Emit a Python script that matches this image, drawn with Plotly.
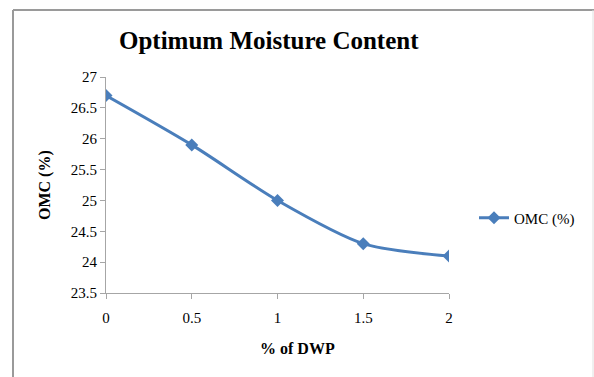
import plotly.graph_objects as go

dwp = [0, 0.5, 1, 1.5, 2]
omc = [26.7, 25.9, 25.0, 24.3, 24.1]
y_ticks = [23.5, 24, 24.5, 25, 25.5, 26, 26.5, 27]
x_ticks = [0, 0.5, 1, 1.5, 2]
x_labels = ["0", "0.5", "1", "1.5", "2"]

W, H = 594, 377
L, R, T, B = 106, 145, 77, 84
pw, ph = W - L - R, H - T - B

def px(x):
    return (x - L) / pw

def py(y):
    return (H - B - y) / ph

blue = "#4A7EBB"
grey = "#A6A6A6"
font = "Times New Roman, Liberation Serif, serif"

fig = go.Figure()
fig.add_trace(go.Scatter(
    x=dwp, y=omc, mode="lines+markers", name="OMC (%)",
    line=dict(color=blue, width=3, shape="spline", smoothing=0.8),
    marker=dict(symbol="diamond", size=10, color=blue),
))

fig.update_layout(
    width=W, height=H,
    margin=dict(l=L, r=R, t=T, b=B),
    paper_bgcolor="white", plot_bgcolor="white",
    font=dict(family=font, size=15, color="black"),
    showlegend=True,
    legend=dict(x=px(474), y=py(218), xanchor="left", yanchor="middle",
                font=dict(family=font, size=15, color="black"),
                bgcolor="rgba(0,0,0,0)", itemwidth=30),
    xaxis=dict(range=[0, 2], tickvals=x_ticks, ticktext=x_labels,
               showgrid=False, zeroline=False, showline=True, linecolor=grey, linewidth=1,
               ticks="outside", ticklen=5, tickcolor=grey, ticklabelstandoff=6,
               tickfont=dict(family=font, size=15)),
    yaxis=dict(range=[23.5, 27], tickvals=y_ticks, ticktext=[("%g" % v) for v in y_ticks],
               showgrid=False, zeroline=False, showline=True, linecolor=grey, linewidth=1,
               ticks="outside", ticklen=5, tickcolor=grey, tickfont=dict(family=font, size=15)),
    annotations=[
        dict(text="<b>Optimum Moisture Content</b>", x=px(269), y=py(41), xref="paper", yref="paper",
             showarrow=False, xanchor="center", yanchor="middle",
             font=dict(family=font, size=25, color="black")),
        dict(text="<b>OMC (%)</b>", x=px(45), y=py(185), xref="paper", yref="paper",
             showarrow=False, xanchor="center", yanchor="middle", textangle=-90,
             font=dict(family=font, size=16, color="black")),
        dict(text="<b>% of DWP</b>", x=px(297), y=py(348), xref="paper", yref="paper",
             showarrow=False, xanchor="center", yanchor="middle",
             font=dict(family=font, size=16, color="black")),
    ],
    shapes=[
        dict(type="line", xref="paper", yref="paper", x0=px(13), x1=px(13), y0=py(10), y1=py(377),
             line=dict(color="#9A9A9A", width=2)),
        dict(type="line", xref="paper", yref="paper", x0=px(13), x1=px(594), y0=py(10), y1=py(10),
             line=dict(color="#9A9A9A", width=2)),
        dict(type="line", xref="paper", yref="paper", x0=px(593), x1=px(593), y0=py(10), y1=py(377),
             line=dict(color="#E0E0E0", width=1)),
    ],
)

fig.write_html("out.html")
